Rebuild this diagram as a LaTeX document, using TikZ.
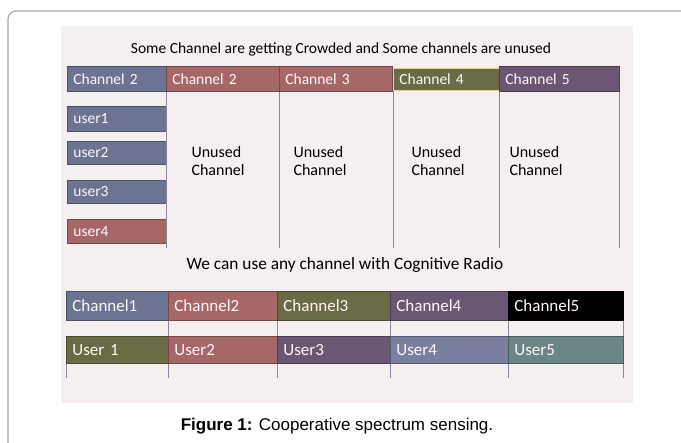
\documentclass[tikz,border=0pt]{standalone}
\usepackage{fontspec}
\setmainfont{Carlito}
\newfontfamily\capfont{Liberation Sans}
\usepackage{tikz}
\definecolor{panelbg}{HTML}{F6EFEF}
\definecolor{framegray}{HTML}{A8A8A8}
\definecolor{gridline}{HTML}{8C849A}
\definecolor{slate}{HTML}{6C7393}
\definecolor{slatelight}{HTML}{7A7FA0}
\definecolor{rust}{HTML}{A66767}
\definecolor{moss}{HTML}{6A6A44}
\definecolor{plum}{HTML}{6A5773}
\definecolor{seagray}{HTML}{6A8686}
\tikzset{
  band/.style={draw=#1!70!black, fill=#1, line width=0.8pt, text=white!88!pink,
    anchor=north west, inner xsep=6pt, inner ysep=0pt, align=left,
    font=\fontsize{15.5}{17}\selectfont},
  wide/.style={font=\fontsize{17}{19}\selectfont},
  sepline/.style={draw=gridline, line width=0.8pt},
  unused/.style={anchor=west, align=left, font=\fontsize{16}{18}\selectfont},
}

\begin{document}
\begin{tikzpicture}[x=1pt,y=-1pt]
	\useasboundingbox (0,0) rectangle (681,443);
	\draw[framegray, line width=1.2pt, rounded corners=8pt] (8,443) -- (8,11) -- (681,11);
	\fill[panelbg] (61,26) rectangle (633,403);
	% crowded / unused
	\node[font=\fontsize{15.5}{18}\selectfont] (top) at (341,49) {Some Channel are getting Crowded and Some channels are unused};
	\node[band=slate, text width=87pt, minimum height=25pt] (h1) at (67,66) {Channel 2};
	\node[band=rust, text width=101pt, minimum height=25pt] (h2) at (166,66) {Channel 2};
	\node[band=rust, text width=101pt, minimum height=25pt] (h3) at (279,66) {Channel 3};
	\node[band=moss, draw=moss!45!yellow!55!white, text width=94pt, minimum height=22pt] (h4) at (393,68) {Channel 4};
	\node[band=plum, text width=108pt, minimum height=25pt] (h5) at (499,66) {Channel 5};
	\node[band=slate, text width=87pt, minimum height=25pt] (u1) at (67,106) {user1};
	\node[band=slate, text width=87pt, minimum height=23pt] (u2) at (67,141) {user2};
	\node[band=slate, text width=87pt, minimum height=23pt] (u3) at (67,180) {user3};
	\node[band=rust, text width=87pt, minimum height=24pt] (u4) at (67,219) {user4};
	\coordinate (low) at (0,248);
	\foreach \h in {h2,h3,h4}
		\draw[sepline] (\h.south west) -- (\h.south west |- low);
	\draw[sepline] (h5.south west) -- (h5.south west |- low);
	\draw[sepline] (h5.south east) -- (h5.south east |- low);
	\node[unused] (n2) at (188,161) {Unused\\Channel};
	\node[unused] (n3) at (290,161) {Unused\\Channel};
	\node[unused] (n4) at (408,161) {Unused\\Channel};
	\node[unused] (n5) at (506,161) {Unused\\Channel};
	% cognitive radio
	\node[font=\fontsize{17.3}{19}\selectfont] (mid) at (345,265) {We can use any channel with Cognitive Radio};
	\node[band=slate, wide, text width=90pt, minimum height=29pt] (c1) at (66,291) {Channel1};
	\node[band=rust, wide, text width=97pt, minimum height=29pt] (c2) at (168,291) {Channel2};
	\node[band=moss, wide, text width=101pt, minimum height=29pt] (c3) at (277,291) {Channel3};
	\node[band=plum, wide, text width=106pt, minimum height=29pt] (c4) at (390,291) {Channel4};
	\node[band=black, wide, draw=black, text width=103pt, minimum height=29pt] (c5) at (508,291) {Channel5};
	\node[band=moss, wide, text width=90pt, minimum height=27pt] (r1) at (66,336) {User 1};
	\node[band=rust, wide, text width=97pt, minimum height=27pt] (r2) at (168,336) {User2};
	\node[band=plum, wide, text width=101pt, minimum height=27pt] (r3) at (277,336) {User3};
	\node[band=slatelight, wide, text width=106pt, minimum height=27pt] (r4) at (390,336) {User4};
	\node[band=seagray, wide, text width=103pt, minimum height=27pt] (r5) at (508,336) {User5};
	\coordinate (foot) at (0,378);
	\foreach \i in {2,...,5}
		\draw[sepline] (c\i.south west) -- (r\i.north west);
	\draw[sepline] (c5.south east) -- (r5.north east);
	\foreach \i in {1,...,5}
		\draw[sepline] (r\i.south west) -- (r\i.south west |- foot);
	\draw[sepline] (r5.south east) -- (r5.south east |- foot);
	% caption
	\node[font=\capfont\fontsize{17}{20}\selectfont] (cap) at (337,426) {\textbf{Figure 1:} Cooperative spectrum sensing.};
\end{tikzpicture}
\end{document}
